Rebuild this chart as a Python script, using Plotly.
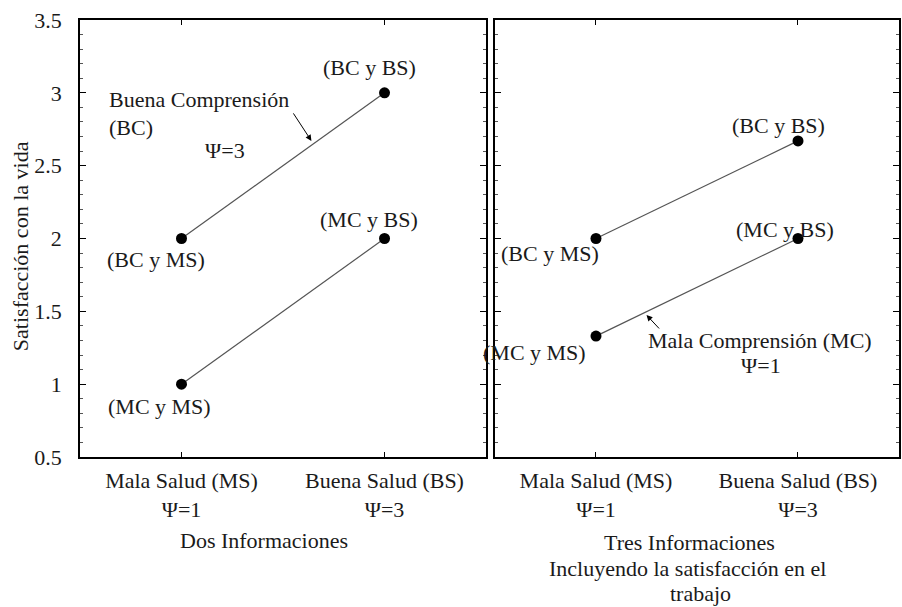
import plotly.graph_objects as go

# ---- data ----
x_pos = [0, 1]
x_ticktext = ["Mala Salud (MS)<br>Ψ=1", "Buena Salud (BS)<br>Ψ=3"]
dos_bc = [2.0, 3.0]
dos_mc = [1.0, 2.0]
tres_bc = [2.0, 2.67]
tres_mc = [1.33, 2.0]
y_ticks = [0.5, 1, 1.5, 2, 2.5, 3, 3.5]
y_ticktext = ["0.5", "1", "1.5", "2", "2.5", "3", "3.5"]

FONT = "'Liberation Serif', 'DejaVu Serif', 'Times New Roman', serif"
FS = 22
TXT = "#1a1a1a"

W, H = 902, 607
ML, MR, MT, MB = 80, 1, 20, 150
PW = W - ML - MR
PH = H - MT - MB


def px(x):
    return (x - ML) / PW


def py(y):
    return (H - MB - y) / PH


fig = go.Figure()
line_style = dict(color="#555555", width=1.2)
mk = dict(color="black", size=11)
for ys, xa, ya in [(dos_bc, "x", "y"), (dos_mc, "x", "y"),
                   (tres_bc, "x2", "y2"), (tres_mc, "x2", "y2")]:
    fig.add_trace(go.Scatter(x=x_pos, y=ys, xaxis=xa, yaxis=ya,
                             mode="lines+markers", line=line_style,
                             marker=mk, showlegend=False, hoverinfo="skip"))

common_x = dict(range=[-0.5, 1.5], tickvals=x_pos, ticktext=x_ticktext,
                showline=True, linecolor="black", linewidth=1.5, mirror="allticks",
                ticks="inside", ticklen=5, tickcolor="black", showgrid=False,
                zeroline=False, tickfont=dict(family=FONT, size=FS, color=TXT),
                ticklabelstandoff=3)
common_y = dict(range=[0.5, 3.5], tickvals=y_ticks,
                showline=True, linecolor="black", linewidth=1.5, mirror="allticks",
                ticks="inside", ticklen=6, tickcolor="black", showgrid=False,
                zeroline=False, tickfont=dict(family=FONT, size=FS, color=TXT),
                minor=dict(dtick=0.1, ticks="inside", ticklen=3, tickcolor="#555", showgrid=False))

d1 = [0, 407 / PW]
d2 = [416 / PW, 1]
fig.update_layout(
    width=W, height=H,
    margin=dict(l=ML, r=MR, t=MT, b=MB),
    paper_bgcolor="white", plot_bgcolor="white",
    font=dict(family=FONT, size=FS, color=TXT),
    xaxis=dict(domain=d1, anchor="y", **common_x),
    xaxis2=dict(domain=d2, anchor="y2", **common_x),
    yaxis=dict(domain=[0, 1], anchor="x", ticktext=y_ticktext, ticklabelstandoff=12, **common_y),
    yaxis2=dict(domain=[0, 1], anchor="x2", showticklabels=False, **common_y),
)

ann = []


def lab(text, xv, yv, xs, ys, xref, yref):
    ann.append(dict(text=text, x=xv, y=yv, xref=xref, yref=yref, xshift=xs, yshift=ys,
                    showarrow=False, font=dict(family=FONT, size=FS, color=TXT)))


# left panel point labels
lab("(BC y MS)", x_pos[0], dos_bc[0], -26, -21, "x", "y")
lab("(BC y BS)", x_pos[1], dos_bc[1], -15, 25, "x", "y")
lab("(MC y MS)", x_pos[0], dos_mc[0], -22, -22, "x", "y")
lab("(MC y BS)", x_pos[1], dos_mc[1], -16, 19, "x", "y")
# right panel point labels
lab("(BC y MS)", x_pos[0], tres_bc[0], -46, -15, "x2", "y2")
lab("(BC y BS)", x_pos[1], tres_bc[1], -19, 15, "x2", "y2")
lab("(MC y MS)", x_pos[0], tres_mc[0], -61, -16, "x2", "y2")
lab("(MC y BS)", x_pos[1], tres_mc[1], -13, 9, "x2", "y2")


def ptxt(text, x, y, xanchor="center"):
    ann.append(dict(text=text, x=px(x), y=py(y), xref="paper", yref="paper",
                    xanchor=xanchor, yanchor="middle", align="left" if xanchor == "left" else "center",
                    showarrow=False, font=dict(family=FONT, size=FS, color=TXT)))


ptxt("Buena Comprensión", 107, 100, "left")
ptxt("(BC)", 107, 127, "left")
ptxt("Ψ=3", 225, 150)
ptxt("Mala Comprensión (MC)", 762, 340)
ptxt("Ψ=1", 763, 365)
ptxt("Dos Informaciones", 264, 540)
ptxt("Tres Informaciones", 691, 542)
ptxt("Incluyendo la satisfacción en el", 689, 568)
ptxt("trabajo", 702, 593)

# y-axis title
ann.append(dict(text="Satisfacción con la vida", x=px(20), y=py(246), xref="paper", yref="paper",
                textangle=-90, showarrow=False, xanchor="center", yanchor="middle",
                font=dict(family=FONT, size=FS, color=TXT)))

# arrows
ann.append(dict(x=0.64, y=2.67, xref="x", yref="y", ax=-19, ay=-29, text="",
                showarrow=True, arrowhead=2, arrowsize=1.2, arrowwidth=1, arrowcolor="black"))
ann.append(dict(x=0.25, y=1.475, xref="x2", yref="y2", ax=14, ay=15, text="",
                showarrow=True, arrowhead=2, arrowsize=1.2, arrowwidth=1, arrowcolor="black"))

fig.update_layout(annotations=ann)
fig.write_html("out.html", config={"displayModeBar": False},
               post_script="document.body.style.margin='0';")
